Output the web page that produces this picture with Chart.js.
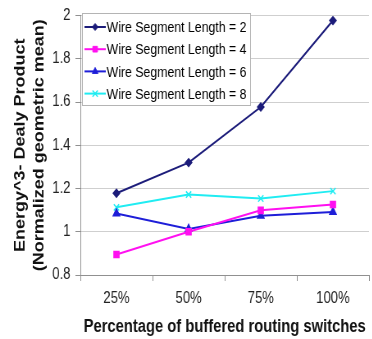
<!DOCTYPE html>
<html>
<head>
<meta charset="utf-8">
<script src="https://cdn.jsdelivr.net/npm/chart.js@4"></script>
<style>
    html, body { margin: 0; padding: 0; background: #fff; overflow: hidden; }
    #wrap { width: 372px; height: 339px; overflow: hidden; }
    /* the source picture is squeezed sideways, so the whole canvas is too */
    #chart { display: block; transform: scaleX(0.82); transform-origin: 0 0; }
</style>
</head>
<body>
<div id="wrap"><canvas id="chart" width="456" height="339"></canvas></div>
<script>
const categories = ['25%', '50%', '75%', '100%'];
const seriesLabels = [
    'Wire Segment Length = 2',
    'Wire Segment Length = 4',
    'Wire Segment Length = 6',
    'Wire Segment Length = 8'
];
const wireLen2 = [1.178, 1.32, 1.577, 1.977];
const wireLen4 = [0.895, 1.0, 1.099, 1.126];
const wireLen6 = [1.084, 1.013, 1.074, 1.091];
const wireLen8 = [1.113, 1.172, 1.154, 1.188];
const yMin = 0.8;
const yMax = 2;
const yStep = 0.2;

const FONT = "'Liberation Sans', Arial, sans-serif";

// Legend drawn inside the plot, like the original
const insideLegend = {
    id: 'insideLegend',
    afterDraw(chart) {
        const ctx = chart.ctx;
        const bx = 100, by = 13, bw = 205, bh = 92;
        ctx.save();
        ctx.fillStyle = '#fff';
        ctx.fillRect(bx, by, bw, bh);
        ctx.strokeStyle = '#b4b4b4';
        ctx.lineWidth = 1;
        ctx.strokeRect(bx + 0.5, by + 0.5, bw, bh);

        chart.data.datasets.forEach((ds, i) => {
            const cy = 27 + i * 22.2;
            ctx.strokeStyle = ds.borderColor;
            ctx.fillStyle = ds.borderColor;
            ctx.lineWidth = 2;
            ctx.beginPath();
            ctx.moveTo(bx + 3, cy);
            ctx.lineTo(bx + 29, cy);
            ctx.stroke();
            if (Chart.helpers && Chart.helpers.drawPoint) {
                ctx.lineWidth = ds.pointBorderWidth || 1;
                Chart.helpers.drawPoint(ctx, {
                    pointStyle: ds.pointStyle,
                    radius: ds.pointRadius,
                    rotation: 0,
                    borderWidth: ds.pointBorderWidth || 1
                }, bx + 16, cy);
            }
            ctx.fillStyle = '#000';
            ctx.font = '15px ' + FONT;
            ctx.textBaseline = 'middle';
            ctx.textAlign = 'left';
            ctx.fillText(ds.label, bx + 30, cy + 1);
        });
        ctx.restore();
    }
};

new Chart(document.getElementById('chart'), {
    type: 'line',
    data: {
        labels: categories,
        datasets: [
            {
                label: seriesLabels[0],
                data: wireLen2,
                borderColor: '#1c1c7a',
                backgroundColor: '#1c1c7a',
                pointStyle: 'rectRot',
                pointRadius: 3.5,
                borderWidth: 2
            },
            {
                label: seriesLabels[1],
                data: wireLen4,
                borderColor: '#ff10f0',
                backgroundColor: '#ff10f0',
                pointStyle: 'rect',
                pointRadius: 4,
                borderWidth: 2
            },
            {
                label: seriesLabels[2],
                data: wireLen6,
                borderColor: '#1e1ed8',
                backgroundColor: '#1e1ed8',
                pointStyle: 'triangle',
                pointRadius: 4,
                borderWidth: 2
            },
            {
                label: seriesLabels[3],
                data: wireLen8,
                borderColor: '#20ecf2',
                backgroundColor: '#20ecf2',
                pointStyle: 'crossRot',
                pointRadius: 4.5,
                pointBorderWidth: 1.5,
                borderWidth: 2
            }
        ]
    },
    options: {
        responsive: false,
        animation: false,
        devicePixelRatio: 1,
        layout: { padding: { top: 14, right: 0, bottom: 0, left: 0 } },
        elements: { line: { tension: 0 } },
        plugins: {
            legend: { display: false },
            tooltip: { enabled: false }
        },
        scales: {
            x: {
                offset: true,
                grid: {
                    offset: true,
                    drawOnChartArea: false,
                    drawTicks: true,
                    tickLength: 6,
                    tickColor: '#909090'
                },
                border: { color: '#909090', width: 1 },
                ticks: {
                    color: '#222',
                    font: { family: FONT, size: 16 },
                    padding: 8,
                    maxRotation: 0
                },
                title: {
                    display: true,
                    text: 'Percentage of buffered routing switches',
                    color: '#111',
                    font: { family: FONT, size: 18, weight: 'bold' },
                    padding: { top: 0, bottom: 1 }
                },
                afterFit: scale => { scale.height = 64; }
            },
            y: {
                min: yMin,
                max: yMax,
                grid: {
                    color: '#cfcfcf',
                    tickColor: '#909090',
                    tickLength: 6
                },
                border: { color: '#909090', width: 1 },
                ticks: {
                    stepSize: yStep,
                    color: '#222',
                    font: { family: FONT, size: 16 },
                    padding: 6,
                    callback: v => Math.round(v * 10) / 10
                },
                title: {
                    display: true,
                    text: ['Energy^3- Dealy Product', '(Normalized geometric mean)'],
                    color: '#111',
                    font: { family: FONT, size: 18, weight: 'bold', lineHeight: 1.25 },
                    padding: { top: 14, bottom: 0 }
                },
                afterFit: scale => { scale.width = 98; }
            }
        }
    },
    plugins: [insideLegend]
});
</script>
</body>
</html>
